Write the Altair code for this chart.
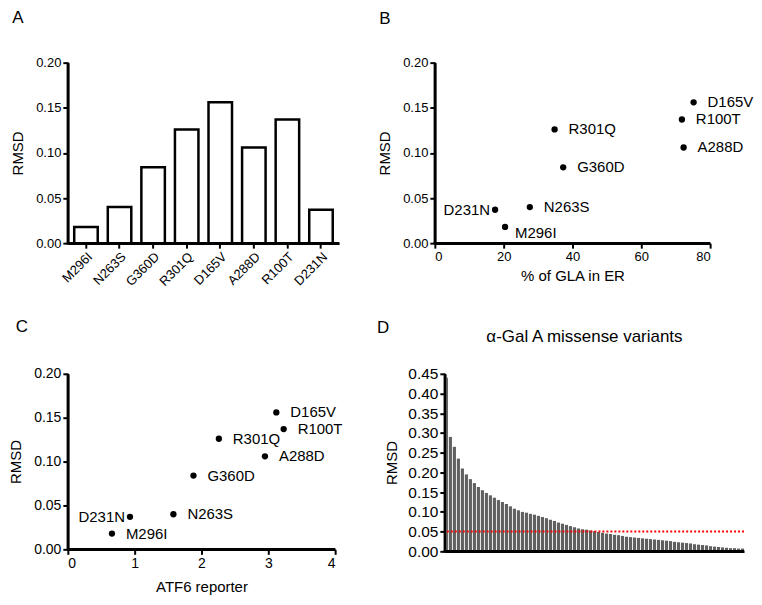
import altair as alt
import pandas as pd

# ---- data ----
variants = ["M296I", "N263S", "G360D", "R301Q", "D165V", "A288D", "R100T", "D231N"]
rmsd = [0.018, 0.040, 0.084, 0.126, 0.156, 0.106, 0.137, 0.037]
gla_in_er = [20.4, 27.6, 37.3, 34.8, 75.2, 72.3, 71.8, 17.5]
atf6 = [0.66, 1.58, 1.88, 2.26, 3.12, 2.95, 3.23, 0.93]

# panel D: RMSD of all alpha-Gal A missense variants, sorted
missense_rmsd = [
    0.44, 0.29, 0.265, 0.235, 0.21, 0.195, 0.183, 0.173, 0.163, 0.155,
    0.148, 0.142, 0.136, 0.130, 0.125, 0.120, 0.114, 0.108, 0.104, 0.100,
    0.098, 0.095, 0.093, 0.090, 0.087, 0.084, 0.080, 0.077, 0.073, 0.070,
    0.067, 0.064, 0.061, 0.058, 0.056, 0.055, 0.053, 0.051, 0.049, 0.047,
    0.045, 0.044, 0.042, 0.041, 0.039, 0.037, 0.036, 0.035, 0.034, 0.033,
    0.032, 0.031, 0.030, 0.029, 0.028, 0.027, 0.026, 0.024, 0.023, 0.022,
    0.021, 0.020, 0.018, 0.017, 0.016, 0.015, 0.013, 0.012, 0.011, 0.010,
    0.009, 0.008, 0.008, 0.007, 0.007,
]
threshold = 0.05

rmsd_ticks = [0, 0.05, 0.10, 0.15, 0.20]
gla_ticks = [0, 20, 40, 60, 80]
atf6_ticks = [0, 1, 2, 3, 4]
d_ticks = [0, 0.05, 0.10, 0.15, 0.20, 0.25, 0.30, 0.35, 0.40, 0.45]

FONT = "Liberation Sans"

df = pd.DataFrame({"variant": variants, "rmsd": rmsd, "gla": gla_in_er, "atf6": atf6})
dfD = pd.DataFrame({"idx": list(range(len(missense_rmsd))), "rmsd": missense_rmsd})
one = pd.DataFrame({"k": [0]})


def ax(**kw):
    base = dict(domainColor="black", domainWidth=2.5, tickColor="black", tickWidth=2,
                tickSize=5, labelColor="black", labelFont=FONT, labelFontSize=13,
                titleFont=FONT, titleFontSize=15, titleFontWeight="normal",
                titleColor="black", grid=False, labelPadding=2, labelOverlap=False)
    base.update(kw)
    return alt.Axis(**base)


def letter(txt, x, y, size=17):
    return alt.Chart(pd.DataFrame({"t": [txt]})).mark_text(
        font=FONT, fontSize=size, color="black", align="center", baseline="middle"
    ).encode(text="t:N", x=alt.value(x), y=alt.value(y))


def frame(W, H):
    """black axis lines of a panel"""
    yl = alt.Chart(one).mark_rule(color="black", strokeWidth=2.5).encode(
        x=alt.value(0), y=alt.value(0), y2=alt.value(H + 1))
    xl = alt.Chart(one).mark_rule(color="black", strokeWidth=2.5).encode(
        y=alt.value(H), x=alt.value(-1), x2=alt.value(W))
    return [yl, xl]


rmsd_scale = alt.Scale(domain=[0, 0.2])
y_rmsd = ax(values=rmsd_ticks, format=".2f", title="RMSD", titlePadding=10)

# ---- Panel A ----
WA, HA = 272, 181
barA = alt.Chart(df).mark_bar(fill="white", stroke="black", strokeWidth=2.5).encode(
    x=alt.X("variant:N", sort=variants,
            scale=alt.Scale(paddingInner=0.3, paddingOuter=0.19),
            axis=ax(title=None, labelAngle=-45)),
    y=alt.Y("rmsd:Q", scale=rmsd_scale, axis=y_rmsd),
)
A = alt.layer(barA, *frame(WA, HA), letter("A", -50, -45)).properties(width=WA, height=HA)

# ---- Panel B ----
WB, HB = 276, 181
x_gla_scale = alt.Scale(domain=[0, 80])
x_gla = ax(values=gla_ticks, format="d", title="% of GLA in ER", titlePadding=5)
ptsB = alt.Chart(df).mark_circle(size=40, color="black", opacity=1).encode(
    x=alt.X("gla:Q", scale=x_gla_scale, axis=x_gla),
    y=alt.Y("rmsd:Q", scale=rmsd_scale, axis=y_rmsd),
)


def lbl(data_filter, xfield, xscale, xaxis, yaxis, align, dx, dy=0):
    return alt.Chart(df).transform_filter(data_filter).mark_text(
        font=FONT, fontSize=15, align=align, baseline="middle", dx=dx, dy=dy, color="black"
    ).encode(
        x=alt.X(xfield, scale=xscale, axis=xaxis),
        y=alt.Y("rmsd:Q", scale=rmsd_scale, axis=yaxis),
        text="variant:N")


B = alt.layer(
    ptsB,
    lbl("datum.variant != 'D231N' && datum.variant != 'M296I'", "gla:Q", x_gla_scale, x_gla, y_rmsd, "left", 14),
    lbl("datum.variant == 'D231N'", "gla:Q", x_gla_scale, x_gla, y_rmsd, "right", -5),
    lbl("datum.variant == 'M296I'", "gla:Q", x_gla_scale, x_gla, y_rmsd, "left", 10, 6),
    *frame(WB, HB),
    letter("B", -50, -44),
).properties(width=WB, height=HB)

# ---- Panel C ----
WC, HC = 268, 176
x_atf_scale = alt.Scale(domain=[0, 4])
x_atf = ax(values=atf6_ticks, format="d", title="ATF6 reporter", titlePadding=9, labelFontSize=14)
y_rmsd_c = ax(values=rmsd_ticks, format=".2f", title="RMSD", titlePadding=10, labelFontSize=14)
ptsC = alt.Chart(df).mark_circle(size=40, color="black", opacity=1).encode(
    x=alt.X("atf6:Q", scale=x_atf_scale, axis=x_atf),
    y=alt.Y("rmsd:Q", scale=rmsd_scale, axis=y_rmsd_c),
)
C = alt.layer(
    ptsC,
    lbl("datum.variant != 'D231N'", "atf6:Q", x_atf_scale, x_atf, y_rmsd_c, "left", 14),
    lbl("datum.variant == 'D231N'", "atf6:Q", x_atf_scale, x_atf, y_rmsd_c, "right", -5),
    *frame(WC, HC),
    letter("C", -46, -47),
).properties(width=WC, height=HC)

# ---- Panel D ----
WD, HD = 300, 178
d_scale = alt.Scale(domain=[0, 0.45])
y_d = ax(values=d_ticks, format=".2f", title="RMSD", labelFontSize=15.5, titlePadding=8)
barD = alt.Chart(dfD).mark_bar(color="#606060").encode(
    x=alt.X("idx:O", scale=alt.Scale(paddingInner=0.22, paddingOuter=0),
            axis=ax(title=None, labels=False, ticks=False)),
    y=alt.Y("rmsd:Q", scale=d_scale, axis=y_d),
)
ruleD = alt.Chart(pd.DataFrame({"thr": [threshold]})).mark_rule(
    color="red", strokeDash=[2, 2], strokeWidth=2).encode(
    y=alt.Y("thr:Q", scale=d_scale, axis=y_d))
titleD = alt.Chart(pd.DataFrame({"t": ["α-Gal A missense variants"]})).mark_text(
    font=FONT, fontSize=17, color="black", align="center", baseline="middle"
).encode(text="t:N", x=alt.value(140), y=alt.value(-37))
D = alt.layer(barD, ruleD, *frame(WD, HD), titleD, letter("D", -62, -46)).properties(
    width=WD, height=HD)

row1 = alt.hconcat(A, B, spacing=96, bounds="flush")
row2 = alt.hconcat(C, D, spacing=110, bounds="flush")
chart = alt.vconcat(row1, row2, spacing=29).properties(
    padding={"left": 0, "top": 0, "right": 0, "bottom": 0}
).configure_view(stroke=None).configure_axis(
    domainColor="black", domainWidth=2.5, tickColor="black", tickWidth=2, tickSize=5,
    labelColor="black", labelFont=FONT, titleFont=FONT, titleFontWeight="normal",
    titleColor="black", grid=False, labelOverlap=False
)

chart.save("out.html", embed_options={"renderer": "svg", "actions": False})
